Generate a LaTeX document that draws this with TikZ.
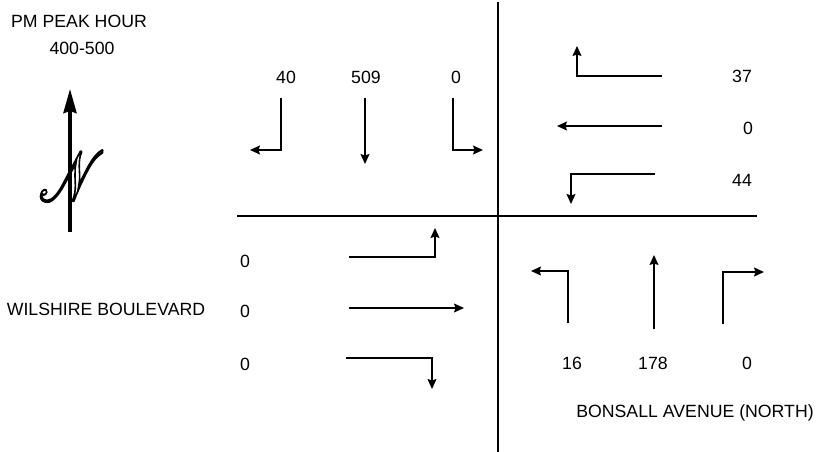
\documentclass[tikz,border=0pt]{standalone}
\usepackage{fontspec,mathrsfs}
\setmainfont{Liberation Sans}
\usetikzlibrary{arrows.meta}

\begin{document}
\begin{tikzpicture}[x=1pt,y=-1pt,line width=1.2pt,
  lbl/.style={inner sep=0pt,font=\fontsize{17.7}{20}\selectfont},
  mv/.style={-{Stealth[length=10pt,width=9pt,inset=1.5pt]}}]
\useasboundingbox(0,0)rectangle(825,452);
% crossing streets
\draw(498,2)--(498,452);\draw(237,216)--(757,216);
% titles and street names
\node[lbl](title)at(79,21){PM PEAK HOUR};\node[lbl](hour)at(82,48){400-500};
\node[lbl](wil)at(106,309){WILSHIRE BOULEVARD};\node[lbl](bon)at(695,413){BONSALL AVENUE (NORTH)};
% north sign
\node[xscale=5.3,yscale=7,inner sep=0pt](nsign)at(72,176){\special{pdf:literal direct 1 Tr 0.3 w}$\mathscr{N}$\special{pdf:literal direct 0 Tr}};
\draw[line width=3.6pt,-{Stealth[length=24pt,width=13pt,inset=2pt]}](70,232)--(70,89);
% southbound
\node[lbl](sL)at(286,77){40};\node[lbl](sT)at(366,77){509};\node[lbl](sR)at(456,77){0};
\draw[mv](281,98)--(281,150)--(250,150);\draw[mv](365,98)--(365,164);\draw[mv](453,98)--(453,150)--(483,150);
% westbound
\node[lbl](wL)at(742,76){37};\node[lbl](wT)at(748,128){0};\node[lbl](wR)at(742,180){44};
\draw[mv](662,76)--(577,76)--(577,46);\draw[mv](662,126)--(557,126);\draw[mv](655,174)--(571,174)--(571,204);
% eastbound
\node[lbl](eL)at(245,261){0};\node[lbl](eT)at(245,311){0};\node[lbl](eR)at(245,364){0};
\draw[mv](349,257)--(435,257)--(435,228);\draw[mv](349,308)--(464,308);\draw[mv](346,358)--(432,358)--(432,389);
% northbound
\node[lbl](nL)at(572,363){16};\node[lbl](nT)at(653,363){178};\node[lbl](nR)at(747,363){0};
\draw[mv](568,323)--(568,271)--(531,271);\draw[mv](654,329)--(654,255);\draw[mv](723,324)--(723,272)--(764,272);
\end{tikzpicture}
\end{document}
